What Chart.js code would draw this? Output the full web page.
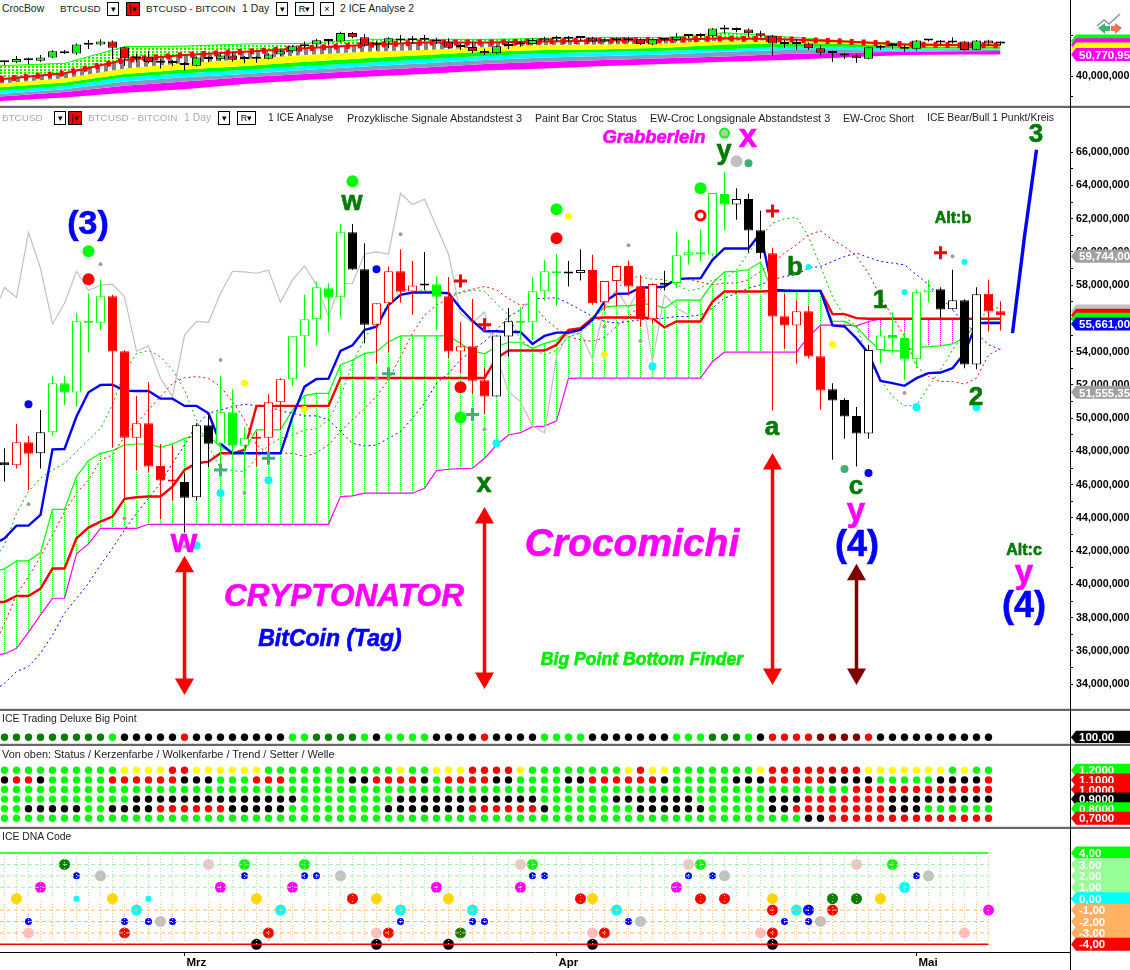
<!DOCTYPE html>
<html lang="de">
<head>
<meta charset="UTF-8">
<title>BTCUSD Crocomichi</title>
<script src="https://cdn.jsdelivr.net/npm/chart.js"></script>
<style>
html, body { margin: 0; padding: 0; background: #fff; }
body { width: 1130px; height: 970px; position: relative; overflow: hidden; font-family: "Liberation Sans", Arial, sans-serif; }
canvas { position: absolute; left: 0; }
.t { position: absolute; font-size: 10.4px; line-height: 12px; color: #222; white-space: nowrap; transform: translateY(-50%); }
.t.off { color: #aaa; }
.box { position: absolute; height: 12px; border: 1px solid #000; font-size: 9px; line-height: 12px; text-align: center; color: #000; transform: translateY(-50%); box-sizing: content-box; }
.box.red { background: #f00; }
.sep { position: absolute; left: 0; width: 1130px; height: 3px; background: linear-gradient(#ddd 0, #ddd 1px, #666 1px, #666 3px); }
.axisline { position: absolute; left: 1070px; top: 0; width: 1px; height: 970px; background: #000; }
.lbl { position: absolute; font-weight: bold; line-height: 1; white-space: nowrap; transform: translate(-50%, -50%); -webkit-text-stroke: 0.6px currentColor; }
.lbl.i { font-style: italic; }
.g { color: #007a00; }
.m { color: #ff00ff; }
.b { color: #0000ff; }
</style>
</head>
<body>

<canvas id="topChart" width="1130" height="87" style="top:18px"></canvas>
<canvas id="mainChart" width="1130" height="600" style="top:108px"></canvas>
<canvas id="bigChart" width="1130" height="32" style="top:711px"></canvas>
<canvas id="statusChart" width="1130" height="80" style="top:746px"></canvas>
<canvas id="dnaChart" width="1130" height="141" style="top:829px"></canvas>

<!-- header rows -->
<div class="t" style="left:2px;top:9px">CrocBow</div>
<div class="t" style="left:60px;top:9px;font-size:9.9px">BTCUSD</div>
<div class="box" style="left:107px;top:9px;width:10px">▾</div>
<div class="box red" style="left:126px;top:9px;width:12px">|▾</div>
<div class="t" style="left:146px;top:9px;font-size:9.9px">BTCUSD - BITCOIN</div>
<div class="t" style="left:242px;top:9px">1 Day</div>
<div class="box" style="left:276px;top:9px;width:10px">▾</div>
<div class="box" style="left:295px;top:9px;width:17px">R▾</div>
<div class="box" style="left:320px;top:9px;width:12px">×</div>
<div class="t" style="left:340px;top:9px">2 ICE Analyse 2</div>

<div class="t off" style="left:2px;top:118px;font-size:9.9px">BTCUSD</div>
<div class="box" style="left:54px;top:118px;width:10px">▾</div>
<div class="box red" style="left:68px;top:118px;width:12px">|▾</div>
<div class="t off" style="left:88px;top:118px;font-size:9.9px">BTCUSD - BITCOIN</div>
<div class="t off" style="left:184px;top:118px">1 Day</div>
<div class="box" style="left:218px;top:118px;width:10px">▾</div>
<div class="box" style="left:237px;top:118px;width:17px">R▾</div>
<div class="t" style="left:268px;top:118px">1 ICE Analyse</div>
<div class="t" style="left:347px;top:118px;font-size:10.9px">Prozyklische Signale Abstandstest 3</div>
<div class="t" style="left:535px;top:118px;font-size:10.6px">Paint Bar Croc Status</div>
<div class="t" style="left:650px;top:118px;font-size:10.9px">EW-Croc Longsignale Abstandstest 3</div>
<div class="t" style="left:843px;top:118px;font-size:10.6px">EW-Croc Short</div>
<div class="t" style="left:927px;top:118px">ICE Bear/Bull 1 Punkt/Kreis</div>

<div class="t" style="left:2px;top:719px">ICE Trading Deluxe Big Point</div>
<div class="t" style="left:2px;top:754px;font-size:10.9px">Von oben: Status / Kerzenfarbe / Wolkenfarbe / Trend / Setter / Welle</div>
<div class="t" style="left:2px;top:837px">ICE DNA Code</div>

<!-- panel separators -->
<div class="sep" style="top:105px"></div>
<div class="sep" style="top:708px"></div>
<div class="sep" style="top:743px"></div>
<div class="sep" style="top:826px"></div>
<div class="axisline"></div>

<!-- wave labels -->
<div class="lbl b" style="left:88px;top:222px;font-size:34px">(3)</div>
<div class="lbl g" style="left:352px;top:201px;font-size:27px">w</div>
<div class="lbl g" style="left:724px;top:150px;font-size:27px">y</div>
<div class="lbl m" style="left:748px;top:135px;font-size:33px">x</div>
<div class="lbl m i" style="left:654px;top:137px;font-size:18.4px">Grabberlein</div>
<div class="lbl g" style="left:772px;top:426px;font-size:26px">a</div>
<div class="lbl g" style="left:484px;top:483px;font-size:27px">x</div>
<div class="lbl m" style="left:184px;top:540px;font-size:34px">w</div>
<div class="lbl g" style="left:795px;top:266px;font-size:26px">b</div>
<div class="lbl g" style="left:880px;top:299px;font-size:26px">1</div>
<div class="lbl g" style="left:976px;top:396px;font-size:26px">2</div>
<div class="lbl g" style="left:1036px;top:133px;font-size:26px">3</div>
<div class="lbl g" style="left:953px;top:218px;font-size:16px">Alt:b</div>
<div class="lbl g" style="left:856px;top:485px;font-size:26px">c</div>
<div class="lbl m" style="left:856px;top:509px;font-size:33px">y</div>
<div class="lbl b" style="left:857px;top:544px;font-size:36px">(4)</div>
<div class="lbl g" style="left:1024px;top:550px;font-size:16px">Alt:c</div>
<div class="lbl m" style="left:1024px;top:571px;font-size:33px">y</div>
<div class="lbl b" style="left:1024px;top:605px;font-size:36px">(4)</div>
<div class="lbl m i" style="left:344px;top:596px;font-size:31.6px">CRYPTONATOR</div>
<div class="lbl b i" style="left:330px;top:638px;font-size:23px">BitCoin (Tag)</div>
<div class="lbl m i" style="left:632px;top:542px;font-size:39px">Crocomichi</div>
<div class="lbl i" style="left:642px;top:660px;font-size:17.6px;color:#00ee00">Big Point Bottom Finder</div>

<!-- little tool icon top right -->
<svg style="position:absolute;left:1096px;top:12px" width="30" height="22">
  <polyline points="1,14 8,8 13,12 24,2" fill="none" stroke="#8a94a0" stroke-width="1.5"/>
  <path d="M2,16 L9,11 L9,14 L14,14 L14,19 L9,19 L9,22 Z" fill="#3cb371"/>
  <path d="M26,16 L19,11 L19,14 L15,14 L15,19 L19,19 L19,22 Z" fill="#f07050"/>
</svg>

<script>
// ---------- main panel candles (million USD) ----------
const mainHigh = [48.19,49.66,48.93,50.50,52.54,52.54,56.33,57.48,58.32,57.42,
  54.11,51.34,52.18,48.45,48.37,46.69,49.70,50.30,52.54,51.74,
  49.46,49.20,51.46,52.40,54.93,57.42,58.22,58.12,61.69,61.69,
  60.52,56.91,59.12,60.16,59.46,60.00,58.56,58.50,55.79,57.17,
  53.06,54.97,56.63,56.67,58.50,59.52,59.88,59.46,60.17,59.83,
  58.25,59.19,59.47,58.61,58.13,58.87,61.21,60.73,61.33,63.54,
  64.82,63.84,63.50,62.48,60.25,57.48,57.12,56.76,55.52,52.11,
  51.21,50.67,54.42,55.48,56.38,55.22,57.76,58.33,57.88,58.93,
  57.16,57.88,58.33,57.04];
const mainBodyTop = [47.35,48.55,48.55,49.15,52.10,52.10,55.83,55.83,57.33,57.33,
  54.03,49.70,49.70,47.13,46.29,46.17,49.58,49.58,50.36,50.36,
  48.79,48.85,50.96,52.34,54.93,55.95,57.88,57.82,61.18,61.18,
  58.96,56.91,58.84,58.84,57.98,58.06,58.06,57.33,54.33,54.33,
  52.28,54.97,55.83,55.83,57.64,58.84,58.80,58.78,58.91,58.91,
  58.25,59.15,59.15,57.94,58.07,58.13,59.81,59.99,59.99,63.54,
  63.48,63.18,63.18,61.31,59.93,56.14,56.44,56.44,53.73,51.75,
  51.09,50.13,54.10,54.98,55.00,54.82,57.58,57.74,57.76,57.10,
  57.10,57.46,57.48,56.44];
const mainBodyBottom = [47.17,47.17,47.87,47.89,49.15,51.54,51.54,55.75,55.75,54.01,
  48.83,48.83,47.09,46.25,46.19,45.22,45.25,48.47,48.47,48.35,
  48.35,48.77,48.83,50.96,52.34,54.93,55.95,57.25,57.27,58.94,
  55.63,55.63,56.91,57.60,57.62,57.98,57.31,54.01,54.01,52.26,
  51.30,51.30,54.91,55.75,55.77,57.64,58.72,58.70,58.73,56.92,
  56.98,58.25,57.92,55.96,55.96,58.03,58.13,59.81,59.85,59.85,
  62.86,62.86,61.29,59.93,56.12,55.58,55.58,53.71,51.67,51.07,
  50.11,49.08,49.08,54.10,54.80,53.53,53.55,57.58,56.54,56.56,
  53.23,53.23,56.42,56.20];
const mainLow = [46.19,46.97,45.69,46.97,48.93,50.80,50.70,53.95,55.31,48.23,
  45.14,46.85,46.73,43.92,45.02,43.12,45.04,47.05,47.29,47.59,
  46.39,47.09,47.79,49.30,51.94,53.10,54.37,55.15,56.05,58.92,
  54.51,53.27,53.95,56.95,56.23,57.72,55.31,53.63,52.70,51.46,
  50.26,51.30,53.70,54.71,54.71,57.07,56.75,57.92,58.29,56.82,
  56.52,56.72,57.38,55.48,55.68,57.68,57.82,59.23,59.43,59.73,
  61.29,61.94,59.97,59.59,50.47,54.16,53.27,53.59,50.51,47.50,
  48.76,47.10,48.76,53.31,53.91,52.31,53.01,56.96,56.02,56.52,
  53.01,52.95,55.22,55.28];
const mainCandleColor = "KRRK GGGGG RRRRRR KKK GGG RRR GGGGG KK RRRR K G RRRR KK GGGG KK RRRRRR K GGGGG KKK RRRRR KKKK GGGGG KKKK RR";
const mainHollow = [1,3,4,6,8,11,16,18,20,22,23,24,25,26,28,31,32,34,38,41,42,44,45,48,50,51,54,56,57,59,61,66,72,73,76,77,79,81];

// ---------- main panel lines ----------
const blueLine = [42.78,43.54,43.54,44.18,48.13,48.15,50.10,51.56,52.00,52.02,
  51.66,51.64,51.64,51.18,51.18,50.74,50.74,50.30,48.47,47.89,
  47.89,47.89,47.89,47.89,50.10,51.90,52.36,52.38,54.05,54.39,
  55.31,55.51,56.81,57.42,57.56,57.56,57.56,57.52,56.61,55.85,
  55.23,55.23,55.19,55.19,54.47,54.95,55.15,55.15,55.32,55.92,
  57.02,57.48,57.50,57.86,57.86,57.92,58.37,58.41,58.41,59.53,
  60.21,60.21,60.21,61.13,57.73,57.68,57.66,57.66,57.66,55.58,
  55.52,54.80,53.90,52.25,52.11,51.95,52.41,52.71,52.75,53.01,
  53.91,55.72,55.72,55.72];
const redLine = [38.95,39.31,39.31,39.75,40.96,40.96,42.78,43.42,43.78,44.08,
  45.15,45.25,45.29,45.29,45.89,46.89,47.29,47.39,47.89,47.89,
  48.09,50.74,50.74,50.74,50.74,50.74,50.74,50.74,52.42,52.42,
  52.42,52.42,52.42,52.42,52.42,52.42,52.42,52.42,52.42,52.42,
  52.42,53.61,54.07,54.07,54.07,54.07,54.41,55.31,55.42,56.02,
  56.06,56.06,56.06,56.06,56.02,55.46,55.82,55.82,55.82,57.02,
  57.62,57.62,57.62,57.62,57.66,57.66,57.66,57.66,57.66,56.26,
  56.26,56.02,55.98,55.98,55.98,55.98,55.98,55.98,55.98,55.98,
  55.98,55.98,55.98,55.98];
const cloudGreen = [40.94,41.42,41.42,41.92,44.52,44.52,46.49,47.45,47.89,48.05,
  48.39,48.45,48.45,48.25,48.45,48.79,48.93,48.93,48.29,47.89,
  48.13,49.30,49.30,49.30,50.50,51.36,51.50,51.50,53.20,53.50,
  53.90,54.00,54.60,54.95,54.95,54.95,54.95,54.95,54.50,54.05,
  53.87,54.30,54.57,54.57,54.20,54.50,54.70,55.27,55.36,56.08,
  56.68,56.76,56.76,56.86,56.86,56.62,57.10,57.10,57.10,58.13,
  58.80,58.85,58.93,59.39,57.62,57.62,57.62,57.62,57.62,55.82,
  55.82,55.48,54.72,54.11,54.05,54.05,54.25,54.31,54.35,54.47,
  54.81,55.72,55.82,55.82];
const cloudMagenta = [35.82,36.16,37.13,38.17,39.17,39.17,41.84,42.44,43.38,43.38,
  43.38,43.38,43.62,43.62,43.62,43.62,43.62,43.62,43.62,43.62,
  43.62,43.62,43.62,43.62,43.62,43.62,43.62,43.62,45.29,45.33,
  45.49,45.49,45.49,45.49,45.49,45.79,46.85,46.93,46.97,46.99,
  47.59,48.39,48.99,49.13,49.49,49.53,49.84,52.40,52.41,52.41,
  52.41,52.41,52.41,52.41,52.41,52.41,52.41,52.41,52.41,53.41,
  53.97,53.97,53.97,53.97,53.97,53.97,53.97,54.90,55.60,55.60,
  55.60,55.56,55.82,55.98,55.98,55.98,55.98,55.98,55.98,55.98,
  55.98,55.98,55.98,55.98];
const laggingGray = [57.86,57.27,61.18,59.02,55.67,56.91,58.84,57.68,58.00,58.06,
  57.31,54.03,54.35,52.40,51.30,54.99,55.83,55.77,57.52,58.84,
  58.80,58.72,58.90,56.97,58.32,59.16,58.02,56.11,58.08,58.12,
  59.88,60.00,59.88,63.53,62.85,63.17,61.53,59.88,56.31,55.71,
  56.39,53.71,51.60,51.00,49.54,49.13,53.71,55.11,55.12,53.55,
  56.72,57.72,56.62,57.92,53.41,57.42,56.62,56.22];
const dashRed = [37.67,39.37,40.47,41.68,42.98,44.38,45.49,46.29,47.49,47.79,
  48.90,49.70,50.50,51.30,52.10,52.44,52.50,52.40,51.90,51.00,
  49.90,48.39,47.89,47.89,47.89,47.69,47.93,48.39,49.20,49.90,
  50.60,51.30,52.30,53.70,55.11,56.20,56.80,57.20,57.60,57.76,
  57.92,57.72,57.20,56.80,56.90,56.00,55.40,54.91,54.72,54.62,
  54.86,55.52,56.12,56.82,57.42,57.92,58.33,58.37,58.19,58.03,
  58.13,58.13,58.33,58.83,59.33,59.93,60.43,61.03,61.27,60.73,
  60.33,59.73,58.73,57.32,56.12,54.92,53.11,52.51,52.21,52.21,
  52.05,52.41,53.81,54.17];
const dashGreen = [42.38,44.28,45.59,46.39,46.89,47.29,47.99,48.69,49.39,50.80,
  52.80,53.90,54.07,53.70,52.90,51.70,49.90,48.29,47.00,46.85,
  46.79,47.59,48.39,48.79,48.99,49.29,49.36,49.90,51.30,53.30,
  54.80,55.81,56.91,57.72,57.76,57.68,57.62,57.52,57.52,57.72,
  57.62,56.91,56.21,54.71,54.20,53.81,54.10,54.91,55.12,55.82,
  56.72,57.72,58.53,58.47,58.37,58.33,58.03,57.66,57.82,58.33,
  58.33,58.93,59.93,60.93,61.73,61.99,62.09,60.93,59.13,57.32,
  56.12,55.52,53.51,52.31,51.31,50.75,50.75,51.91,52.91,54.11,
  55.11,55.92,56.42,56.72];
const dashBlue = [34.06,34.76,35.06,35.86,36.97,38.27,39.17,40.07,41.18,42.18,
  43.28,44.28,45.19,46.09,47.29,48.39,49.60,50.30,50.50,50.70,
  50.84,50.76,50.70,50.44,50.30,50.14,50.14,49.90,49.20,48.49,
  48.33,48.39,48.79,49.20,50.00,50.90,52.10,52.70,53.51,54.11,
  54.61,55.31,56.11,56.51,57.21,57.21,57.25,56.91,56.52,56.12,
  55.82,55.72,55.82,55.92,55.98,56.02,56.12,56.12,56.22,56.62,
  57.22,57.52,57.82,58.03,58.33,58.53,58.63,59.03,59.13,59.43,
  59.73,59.93,59.67,59.43,59.33,59.23,58.63,58.03,57.32,56.52,
  55.72,55.12,54.42,54.12];
// where each line meets the left border of the panel, before the first bar
const edgeBlue = 42.62, edgeRed = 38.95, edgeGreen = 40.88, edgeMagenta = 35.8;
const edgeGray = 57.2, edgeDashRed = 37.07, edgeDashGreen = 41.98, edgeDashBlue = 33.86;
const forecastX = [84,85,86];
const forecastY = [55.12,60.93,66.15];

// big arrows: bar index, upper value, lower value
const arrowsRed = [[15,41.06,34.02],[40,44.0,34.38],[64,47.25,34.62]];
const arrowsDark = [[71,40.58,34.62]];

// signals as [bar index, value]
const sigGreen = [[7,60.04],[29,64.25],[38,50.05],[46,62.57],[58,63.84]];
const sigRed = [[7,58.36],[38,51.86],[46,60.82]];
const sigRedRing = [[58,62.2]];
const sigGrayRing = [[60,67.15]];
const sigGrayBig = [[61,65.46]];
const sigSea = [[62,65.34],[70,46.94]];
const sigBlue = [[2,50.84],[31,58.96],[72,46.7]];
const sigYellow = [[20,52.1],[25,50.54],[47,62.15],[50,53.83],[69,54.44]];
const sigCyan = [[18,45.5],[22,46.27],[16,42.34],[41,48.49],[54,53.13],[76,50.66],[81,50.66]];
const sigCyanSmall = [[67,59.09],[75,57.58],[80,59.39]];
const sigGraySmall = [[8,59.26],[2,44.82],[18,53.5],[20,45.5],[10,43.98],[15,42.28],[33,61.06],[31,52.36],[40,49.34],[52,60.41],[50,55.52],[53,54.64],[75,51.51],[79,59.75]];
const plusRed = [[38,58.26],[40,55.63],[64,62.46],[78,59.95]];
const plusSea = [[18,46.89],[22,47.59],[32,52.68],[39,50.22]];

const mainTicks = [34,35,36,37,38,39,40,41,42,43,44,45,46,47,48,49,50,51,52,53,54,55,56,57,58,59,60,61,62,63,64,65,66];

// ---------- top panel ----------
const topHigh = [48.0,50.0,49.3,50.5,53.0,53.0,56.2,57.9,58.2,57.6,54.6,51.3,52.5,48.4,48.0,47.2,49.7,49.7,51.3,51.8,
  50.0,49.7,51.3,53.0,55.4,57.1,58.5,58.5,62.0,61.8,60.8,57.4,59.2,60.3,59.9,60.3,59.0,58.7,56.2,57.1,
  53.6,55.1,56.9,56.9,58.7,59.5,60.0,59.9,59.9,59.5,58.7,59.2,59.5,58.7,58.7,59.0,61.2,60.7,61.2,63.8,
  65.3,64.1,63.6,62.5,60.5,57.9,58.2,56.7,55.4,52.6,51.6,50.8,54.6,55.4,56.2,55.4,57.9,58.4,57.9,59.2,
  57.4,57.9,58.0,57.2];
const topBodyTop = [47.2,48.5,48.2,49.3,52.3,52.3,55.7,55.9,57.2,57.2,54.3,49.8,49.8,47.1,46.9,45.9,49.2,49.2,50.3,50.3,
  48.9,49.0,50.8,52.3,54.8,55.7,57.7,57.7,61.3,61.3,59.2,56.7,58.7,58.5,58.0,58.4,58.0,57.2,54.8,54.4,
  52.5,54.8,55.9,56.1,57.9,58.7,58.9,58.9,59.2,59.0,58.2,59.0,59.0,58.2,58.2,58.4,59.5,60.2,60.2,63.5,
  63.3,63.1,63.1,61.2,60.0,56.2,56.2,56.2,53.8,51.8,51.2,50.3,54.3,55.1,55.3,54.6,57.6,57.9,57.6,57.1,
  57.1,57.6,57.6,56.4];
const topBodyBottom = [46.9,46.9,47.9,47.7,49.2,51.3,51.2,55.6,55.7,54.1,48.9,48.9,47.1,46.7,46.6,45.6,45.2,48.5,48.4,48.2,
  48.5,48.7,48.7,50.8,52.3,54.8,55.7,57.4,57.2,59.2,55.7,55.7,56.7,57.6,57.7,58.0,57.1,54.1,54.4,52.3,
  51.3,51.3,54.9,55.7,55.9,57.6,58.5,58.5,58.9,57.2,57.2,57.9,57.9,55.9,55.7,58.0,58.0,59.9,59.9,59.7,
  63.0,62.8,61.2,60.0,56.1,55.9,55.9,53.8,51.6,51.5,50.2,48.9,48.7,54.1,54.9,53.6,53.6,57.6,56.6,56.7,
  53.0,53.1,56.2,56.1];
const topLow = [45.6,46.4,45.9,47.1,48.9,51.0,50.5,53.5,55.1,48.4,45.1,47.2,46.4,43.9,45.1,42.8,44.8,46.9,47.7,47.2,
  46.4,46.7,48.4,50.0,51.6,54.1,54.6,55.4,56.9,58.7,54.6,53.0,53.8,56.6,56.2,57.1,55.9,53.6,53.0,51.3,
  50.5,51.0,53.5,54.6,55.4,57.1,57.1,57.1,57.6,56.6,56.6,56.7,56.7,55.4,55.3,57.2,57.1,58.7,59.0,59.2,
  61.2,61.7,59.5,59.2,50.3,54.1,53.0,53.0,50.5,47.2,48.5,46.7,48.4,53.0,53.5,52.1,52.6,57.1,55.9,56.2,
  52.6,53.0,55.1,55.3];
const topCandleColor = "KGKGGRGKGR RGRKKKGRGR KKGGGGGKGR RGGRKKRRKR RGGKGGKKKR GGRRGKGKKG KKRRRKKRRK RRGGKRGKRK RGRK";

// rainbow ribbon boundaries, read at the left border and then every fifth bar
const ribbonX = [-0.375,5,10,15,20,25,30,35,40,45,50,55,60,65,70,75,80,83];
const ribbonTop = [45.2,46.4,54.6,54.9,55.9,56.2,58.2,58.2,58.2,58.7,59.2,59.0,61.5,59.5,57.4,56.1,55.7,55.7];
const ribbonRed = [38.5,41.5,48.0,50.5,52.1,53.8,55.4,56.6,56.6,57.2,57.6,57.9,58.7,58.2,57.1,55.7,55.3,55.3];
const ribbonGray = [36.5,39.0,43.9,46.4,48.4,50.5,52.1,52.9,54.3,55.4,55.7,56.2,57.6,57.6,57.1,55.6,55.1,54.9];
const ribbonYellow = [34.6,36.9,41.1,43.4,45.1,47.2,48.9,50.5,52.1,52.9,53.3,54.1,55.7,56.2,56.2,54.6,54.6,54.4];
const ribbonGreen = [32.9,35.2,39.5,41.5,43.1,45.1,46.7,48.4,50.0,51.3,52.0,52.6,53.3,54.6,54.6,53.6,53.8,53.6];
const ribbonCyan = [31.3,33.6,37.4,39.5,41.1,43.1,44.8,46.4,48.0,49.3,50.0,50.8,52.1,52.9,52.9,52.6,52.9,53.1];
const ribbonSlate = [30.0,32.3,35.4,37.4,39.5,41.1,42.8,44.3,46.1,47.2,48.0,48.9,49.7,51.0,51.6,52.1,52.3,52.5];
const ribbonMagenta = [27.8,29.6,31.9,33.6,36.2,38.2,39.8,41.1,42.8,43.9,45.1,46.1,47.2,48.0,49.3,50.5,50.8,50.8];

// ---------- dot panels ----------
const bigPointRow = "DDDDDDDDD G KKKKK R KKKKKKKK GG DDDD G K GGGG KKKK R KKKK GG GG KKKKKKK GGG DDD G K RRRR MMMM R KKKKKKKKKK";
const statusLevels = [1.2,1.1,1.0,0.9,0.8,0.7];
const statusRows = [
  "GGGGGGGGGG YYYY RR YYYYYY GGGGGGGGGGG Y GG YYY RRRR Y GGG GGGGG Y R YY GGGGGGG Y RRRRRRRR YYYYYYY G Y GG",
  "KRRK GGGGG RRRRRR KKK GGG RRR GGGGG KK RRRR K G RRRR KK GGGG KK RRRRRR K GGGGG KKK RRRRR KKKK GGGGG KKKK R",
  "GGGGGGGGGGGGGGGGGGGGGGGGGGGGGGGGGGGGGGGGGGGGGGGGGGGGGGGGGGGGGGGGGGGGGGG RRRRRRRRRRRR",
  "GGGGGGGGGGG KKKKKKKKKKKKKK GGGGGGGG KKKKKKKKKKKK GG GGGG KKKKKKK GGGGGG KKK RRRRRRR KKKKKKKKK",
  "GG KKKKK GG KKKK RRRRRR KKKKK GGGGGGGG KKKKKKK RRRRRR K G GGGGGG KKKKKK GGGGG KK RRRRRRRR KKK GGGGGG",
  "GGGGGGGGGGGGGGGGGGGGGGGGGGGGGGGGGGGGGGGGGGGGGGGGGGGGGGGGGGGGGGGGGGG KK RRRRRRRRRRRRRR"
];

// ---------- DNA code dots: [bar index, level] ----------
const dnaGreen = [[20,3],[25,3],[44,3],[58,3],[74,3]];
const dnaDarkGreen = [[5,3],[69,0],[71,0],[38,-3]];
const dnaPink = [[17,3],[43,3],[57,3],[71,3],[2,-3],[31,-3],[49,-3],[63,-3],[80,-3]];
const dnaBlue = [[6,2],[20,2],[25,2],[26,2],[44,2],[45,2],[57,2],[59,2],[76,2],[2,-2],[10,-2],[12,-2],[14,-2],[33,-2],[39,-2],[40,-2],[52,-2],[65,-2],[67,-2]];
const dnaBlueBig = [[67,-1]];
const dnaGray = [[8,2],[28,2],[60,2],[77,2],[13,-2],[53,-2],[68,-2]];
const dnaMagenta = [[3,1],[18,1],[24,1],[36,1],[43,1],[56,1],[82,-1]];
const dnaGold = [[1,0],[9,0],[21,0],[31,0],[37,0],[49,0],[64,0],[73,0]];
const dnaCyan = [[75,1],[11,-1],[23,-1],[33,-1],[39,-1],[51,-1],[66,-1]];
const dnaCyanSmall = [[6,0],[12,0]];
const dnaRed = [[29,0],[48,0],[58,0],[60,0],[64,-1],[69,-1],[10,-3],[22,-3],[32,-3],[50,-3],[64,-3]];
const dnaBlack = [[21,-4],[31,-4],[37,-4],[49,-4],[64,-4]];
const dnaUpperLevels = [3,2,1];
const dnaLowerLevels = [-1,-2,-3];

// month ticks on the time axis
const monthTicks = [15,46,76];
const monthLabels = ["Mrz","Apr","Mai"];

// ---------- helpers ----------
const COLORS = { G:'#00ff00', R:'#ff0000', K:'#000000', Y:'#ffff00', D:'#008000', M:'#800000' };
const BAR_PX = 12;
const X_MIN = -0.375;
const X_MAX = 1070 / BAR_PX - 0.375;
const LAST_GRID_BAR = 82;
const letters = s => s.replace(/ /g, '').split('');
const fmtMillions = v => (v * 1000000).toLocaleString('en-US');

function tile(w, h, paint) {
  const c = document.createElement('canvas');
  c.width = w; c.height = h;
  paint(c.getContext('2d'));
  return c.getContext('2d').createPattern(c, 'repeat');
}
const dotted = (color, on, period) => tile(1, period, g => { g.fillStyle = color; g.fillRect(0, 0, 1, on); });

function wickSet(high, low, colors, order) {
  return { type:'bar', grouped:false, barThickness:1, inflateAmount:0, borderWidth:0, order,
    backgroundColor: colors, data: high.map((h, i) => ({ x:i, y:[low[i], h] })) };
}
function bodySet(top, bottom, fill, border, order) {
  return { type:'bar', grouped:false, barThickness:9, inflateAmount:0, minBarLength:2, borderWidth:1,
    borderSkipped:false, order, backgroundColor: fill, borderColor: border,
    data: top.map((t, i) => ({ x:i, y:[bottom[i], t] })) };
}
function lineSet(values, edge, color, width, dash, order) {
  return { type:'line', borderColor: color, borderWidth: width, borderDash: dash || [], pointRadius: 0,
    tension: 0, fill: false, order,
    data: [{ x:X_MIN, y:edge }].concat(values.map((v, i) => ({ x:i, y:v }))) };
}
function dots(pairs, color, radius, order, extra) {
  return Object.assign({ type:'line', showLine:false, pointRadius: radius, pointBackgroundColor: color,
    pointBorderWidth: 0, order, data: pairs.map(p => ({ x:p[0], y:p[1] })) }, extra || {});
}
function plus(pairs, color, order) {
  return dots(pairs, color, 6.5, order, { pointStyle:'cross', pointBorderColor: color, pointBorderWidth: 3 });
}
function arrow(a, color) {
  return { type:'line', borderColor: color, borderWidth: 3.5, order: 0, pointStyle:'triangle', pointRadius: 11,
    pointBackgroundColor: color, pointBorderWidth: 0, pointRotation: [0, 180],
    data: [{ x:a[0], y:a[1] }, { x:a[0], y:a[2] }] };
}
function band(values, fill, lineColor) {
  return { type:'line', borderColor: lineColor || 'transparent', borderWidth: lineColor ? 1 : 0, pointRadius: 0,
    tension: 0, fill: fill ? '+1' : false, backgroundColor: fill || 'transparent', order: 6,
    data: values.map((v, k) => ({ x: ribbonX[k], y: v })) };
}

// flags on the price axis, positioned through the y scale
const flagPlugin = {
  id: 'flags',
  afterDraw(chart, args, opts) {
    const ctx = chart.ctx, y = chart.scales.y;
    (opts.items || []).forEach(f => {
      const py = y.getPixelForValue(f.value), x0 = 1071, h = opts.height || 13;
      ctx.save();
      ctx.fillStyle = f.color;
      ctx.beginPath();
      ctx.moveTo(x0, py);
      ctx.lineTo(x0 + 5, py - h / 2);
      ctx.lineTo(1130, py - h / 2);
      ctx.lineTo(1130, py + h / 2);
      ctx.lineTo(x0 + 5, py + h / 2);
      ctx.closePath();
      ctx.fill();
      if (f.text) {
        ctx.fillStyle = '#fff';
        ctx.font = 'bold 11.5px "Liberation Sans"';
        ctx.textBaseline = 'middle';
        ctx.fillText(f.text, x0 + 8, py + 1);
      }
      ctx.restore();
    });
  }
};
Chart.register(flagPlugin);

function panelOptions(cfg) {
  const x = { type:'linear', min:X_MIN, max:X_MAX, offset:false, display:false };
  if (cfg.months) {
    x.display = true;
    x.grid = { display:true, offset:false, drawOnChartArea:false, tickLength:4, color:'#000' };
    x.border = { display:true, color:'#000', width:1 };
    x.afterBuildTicks = s => { s.ticks = monthTicks.map(v => ({ value:v })); };
    x.afterFit = s => { s.height = 18; s.paddingLeft = 0; s.paddingRight = 0; };
    x.ticks = { autoSkip:false, maxRotation:0, minRotation:0, align:'start', padding:0, labelOffset:2, color:'#000',
      font:{ family:'"Liberation Sans"', size:11.5, weight:'bold' },
      callback: v => monthLabels[monthTicks.indexOf(v)] };
  }
  return {
    responsive:false, animation:false, events:[],
    layout:{ padding:0, autoPadding:false },
    plugins:{ legend:{ display:false }, tooltip:{ enabled:false }, flags:{ items:cfg.flags || [], height:cfg.flagHeight } },
    scales:{
      x,
      y:{ position:'right', min:cfg.yMin, max:cfg.yMax,
        afterFit: s => { s.width = 60; s.paddingTop = 0; s.paddingBottom = 0; },
        afterBuildTicks: s => { s.ticks = cfg.ticks.map(v => ({ value:v })); },
        border:{ display:false },
        grid:{ drawOnChartArea:false, tickLength:3, color:'#000' },
        ticks:{ autoSkip:false, padding:3, color:'#000', font:{ family:'"Liberation Sans"', size:10.7, weight:'bold' },
          callback: cfg.label || (() => '') } }
    }
  };
}

// ---------- top panel chart ----------
const topColors = letters(topCandleColor).map(c => COLORS[c]);
const grayHatch = tile(8, 1, g => { g.fillStyle = '#808080'; g.fillRect(0, 0, 4, 1); });
const greenDots = tile(4, 3, g => { g.fillStyle = '#00ff00'; g.fillRect(0, 0, 2, 2); g.fillStyle = '#ffff66'; g.fillRect(2, 0, 1, 1); });
new Chart(document.getElementById('topChart'), {
  type:'line',
  data:{ datasets:[
    wickSet(topHigh, topLow, '#000', 3),
    bodySet(topBodyTop, topBodyBottom, topColors, '#000', 2),
    band(ribbonTop, greenDots, '#00ff00'),
    band(ribbonRed, grayHatch),
    band(ribbonGray, '#ffff00'),
    band(ribbonYellow, '#00ff00'),
    band(ribbonGreen, '#00ffff'),
    band(ribbonCyan, '#7f9fbf'),
    band(ribbonSlate, '#ff00ff'),
    band(ribbonMagenta),
    Object.assign(band(ribbonRed), { borderColor:'#ff0000', borderWidth:2, order:4 }),
    Object.assign(band(ribbonRed), { borderColor:'#ff0000', borderWidth:6, borderDash:[4,8], order:5 })
  ] },
  options: panelOptions({ yMin:25.86, yMax:68.72, ticks:[30,40,60],
    label: v => v === 40 ? fmtMillions(v) : '',
    flags:[ { value:57.4, color:'#00ff00' }, { value:55.5, color:'#ff00ff' }, { value:53.5, color:'#ffff00', text:'' },
            { value:50.77, color:'#ff00ff', text:'50,770,958' } ] })
});

// ---------- main panel chart ----------
const mainColors = letters(mainCandleColor).map(c => COLORS[c]);
const mainFill = mainColors.map((c, i) => mainHollow.includes(i) ? '#ffffff' : c);
const hatchGreen = dotted('#00ff00', 1, 2);
const hatchMagenta = dotted('#ff00ff', 1, 2);
const cloudHatch = { type:'bar', grouped:false, barThickness:1, inflateAmount:0, borderWidth:0, order:9,
  backgroundColor: cloudGreen.map((v, i) => v >= cloudMagenta[i] ? hatchGreen : hatchMagenta),
  data: cloudGreen.map((v, i) => ({ x:i, y:[Math.min(v, cloudMagenta[i]), Math.max(v, cloudMagenta[i])] })) };
new Chart(document.getElementById('mainChart'), {
  type:'line',
  data:{ datasets:[
    cloudHatch,
    lineSet(cloudMagenta, edgeMagenta, '#ff00ff', 1.2, null, 8),
    lineSet(cloudGreen, edgeGreen, '#00ff00', 1.2, null, 7),
    lineSet(laggingGray, edgeGray, '#c0c0c0', 1.2, null, 7),
    lineSet(dashRed, edgeDashRed, '#ff0000', 1, [2,3], 6),
    lineSet(dashGreen, edgeDashGreen, '#00c000', 1, [2,3], 6),
    lineSet(dashBlue, edgeDashBlue, '#0000ff', 1, [2,3], 6),
    lineSet(redLine, edgeRed, '#ff0000', 2.4, null, 5),
    lineSet(blueLine, edgeBlue, '#0000ff', 2.4, null, 4),
    wickSet(mainHigh, mainLow, mainColors, 3),
    bodySet(mainBodyTop, mainBodyBottom, mainFill, mainColors, 2),
    dots(sigGreen, '#00ff00', 6, 1),
    dots(sigRed, '#ff0000', 6, 1),
    dots(sigRedRing, '#ffffff', 4.5, 1, { pointBorderColor:'#ff0000', pointBorderWidth:3 }),
    dots(sigGrayRing, '#c0c0c0', 4.5, 1, { pointBorderColor:'#00ff00', pointBorderWidth:2 }),
    dots(sigGrayBig, '#c0c0c0', 6, 1),
    dots(sigSea, '#3cb371', 4, 1),
    dots(sigBlue, '#0000ff', 4, 1),
    dots(sigYellow, '#ffff00', 3.5, 1),
    dots(sigCyan, '#00ffff', 4, 1),
    dots(sigCyanSmall, '#00ffff', 3, 1),
    dots(sigGraySmall, '#a0a0a0', 2, 1),
    plus(plusRed, '#ff0000', 1),
    plus(plusSea, '#3cb371', 1),
    { type:'line', borderColor:'#0000ff', borderWidth:3.4, pointRadius:0, order:1,
      data: forecastX.map((x, k) => ({ x, y:forecastY[k] })) },
    ...arrowsRed.map(a => arrow(a, '#ff0000')),
    ...arrowsDark.map(a => arrow(a, '#800000'))
  ] },
  options: panelOptions({ yMin:32.57, yMax:68.66, ticks:mainTicks,
    label: v => v % 2 === 0 ? fmtMillions(v) : '',
    flags:[ { value:59.744, color:'#a0a0a0', text:'59,744,001' },
            { value:51.555, color:'#a0a0a0', text:'51,555,353' },
            { value:56.45, color:'#c0c0c0' }, { value:56.2, color:'#ff0000' }, { value:55.95, color:'#00ff00' },
            { value:55.661, color:'#0000ff', text:'55,661,000' } ] })
});

// ---------- ICE Trading Deluxe Big Point ----------
const bigLetters = letters(bigPointRow);
new Chart(document.getElementById('bigChart'), {
  type:'line',
  data:{ datasets:[ { type:'line', showLine:false, pointRadius:3.7, pointBorderWidth:0,
    pointBackgroundColor: bigLetters.map(c => COLORS[c]), data: bigLetters.map((c, i) => ({ x:i, y:100 })) } ] },
  options: panelOptions({ yMin:98.575, yMax:106.575, ticks:[100], flags:[ { value:100, color:'#000', text:'100,00' } ] })
});

// ---------- Status rows ----------
new Chart(document.getElementById('statusChart'), {
  type:'line',
  data:{ datasets: statusRows.map((row, r) => {
    const cells = letters(row);
    return { type:'line', showLine:false, pointRadius:3.7, pointBorderWidth:0,
      pointBackgroundColor: cells.map(c => COLORS[c]), data: cells.map((c, i) => ({ x:i, y:statusLevels[r] })) };
  }) },
  options: panelOptions({ yMin:0.6198, yMax:1.4531, ticks:[1.0],
    flags:[ { value:1.2, color:'#00ff00', text:'1,2000' }, { value:1.1, color:'#ff0000', text:'1,1000' },
            { value:1.0, color:'#ff0000', text:'1,0000' }, { value:0.9, color:'#000000', text:'0,9000' },
            { value:0.8, color:'#00ff00', text:'0,8000' }, { value:0.7, color:'#ff0000', text:'0,7000' } ] })
});

// ---------- ICE DNA Code ----------
const barList = letters(statusRows[2]).map((c, i) => i);
const hatchLight = dotted('#a8f0a8', 1, 3);
const hatchOrange = dotted('#ffc080', 1, 3);
function level(value, color, width, dash) {
  return { type:'line', borderColor:color, borderWidth:width, borderDash:dash || [], pointRadius:0, order:0,
    data:[{ x:X_MIN, y:value }, { x:LAST_GRID_BAR, y:value }] };
}
new Chart(document.getElementById('dnaChart'), {
  type:'line',
  data:{ datasets:[
    { type:'bar', grouped:false, barThickness:1, inflateAmount:0, borderWidth:0, order:0, backgroundColor:hatchLight,
      data: barList.map(i => ({ x:i, y:[0, 4] })) },
    { type:'bar', grouped:false, barThickness:1, inflateAmount:0, borderWidth:0, order:0, backgroundColor:hatchOrange,
      data: barList.map(i => ({ x:i, y:[-4, 0] })) },
    ...dnaUpperLevels.map(v => level(v, '#a0f0a0', 1, [4,3])),
    ...dnaLowerLevels.map(v => level(v, '#ffb870', 1, [4,3])),
    level(4, '#00ff00', 1.5),
    level(-4, '#ff0000', 1.5),
    dots(dnaGreen, '#00ff00', 5.5, 1),
    dots(dnaDarkGreen, '#008000', 5.5, 1),
    dots(dnaPink, '#ffc0cb', 5.5, 1),
    dots(dnaBlue, '#0000ff', 3.5, 1),
    dots(dnaBlueBig, '#0000ff', 5.5, 1),
    dots(dnaGray, '#c0c0c0', 5.5, 1),
    dots(dnaMagenta, '#ff00ff', 5.5, 1),
    dots(dnaGold, '#ffd700', 5.5, 1),
    dots(dnaCyan, '#00ffff', 5.5, 1),
    dots(dnaCyanSmall, '#00ffff', 3, 1),
    dots(dnaRed, '#ff0000', 5.5, 1),
    dots(dnaBlack, '#000000', 5.5, 1)
  ] },
  options: panelOptions({ yMin:-4.675, yMax:6.103, ticks:[0], months:true,
    flags:[ { value:4, color:'#00ff00', text:'4,00' }, { value:3, color:'#99ff99', text:'3,00' },
            { value:2, color:'#99ff99', text:'2,00' }, { value:1, color:'#99ff99', text:'1,00' },
            { value:0, color:'#00ffff', text:'0,00' }, { value:-1, color:'#ffb060', text:'-1,00' },
            { value:-2, color:'#ffb060', text:'-2,00' }, { value:-3, color:'#ffb060', text:'-3,00' },
            { value:-4, color:'#ff0000', text:'-4,00' } ] })
});
</script>
</body>
</html>
